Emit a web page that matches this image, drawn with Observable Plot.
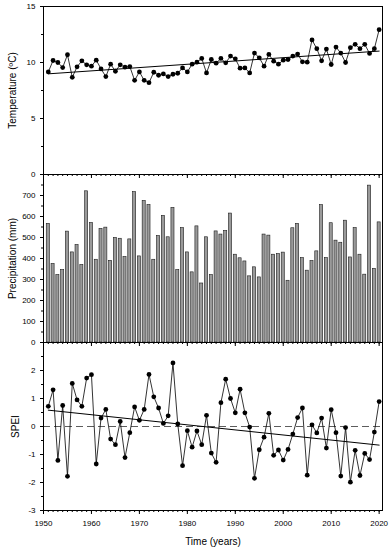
<!DOCTYPE html>
<html>
<head>
<meta charset="utf-8">
<script src="https://cdn.jsdelivr.net/npm/d3@7"></script>
<script src="https://cdn.jsdelivr.net/npm/@observablehq/plot@0.6"></script>
<style>
  body { margin: 0; background: #fff; }
  #chart { position: relative; width: 391px; height: 550px; font-family: "Liberation Sans", Arial, sans-serif; }
  #chart svg { position: absolute; left: 0; overflow: visible; background: transparent; }
</style>
</head>
<body>
<div id="chart"></div>
<script>
// ---- Data ----
const years = [
  1951,1952,1953,1954,1955,1956,1957,1958,1959,1960,
  1961,1962,1963,1964,1965,1966,1967,1968,1969,1970,
  1971,1972,1973,1974,1975,1976,1977,1978,1979,1980,
  1981,1982,1983,1984,1985,1986,1987,1988,1989,1990,
  1991,1992,1993,1994,1995,1996,1997,1998,1999,2000,
  2001,2002,2003,2004,2005,2006,2007,2008,2009,2010,
  2011,2012,2013,2014,2015,2016,2017,2018,2019,2020
];
const temperature = [
  9.16,10.18,10.00,9.55,10.69,8.68,9.61,10.15,9.79,9.67,
  10.21,9.43,8.74,9.85,9.22,9.79,9.58,9.64,8.41,9.16,
  8.41,8.20,9.13,8.86,8.98,8.74,8.95,9.04,9.52,9.16,
  9.85,10.03,10.36,9.07,10.27,9.94,10.36,9.97,10.57,10.33,
  9.49,9.52,9.07,10.84,10.42,9.67,10.72,10.12,9.85,10.21,
  10.27,10.57,10.75,10.06,10.03,12.02,11.23,10.15,11.20,9.82,
  11.38,10.84,10.00,11.32,11.62,11.23,11.62,10.81,11.23,12.93
];
const precipitation = [
  565,374,321,345,528,429,464,369,720,569,
  394,541,547,389,498,494,407,491,716,410,
  674,655,394,507,603,501,641,345,545,429,
  334,553,281,501,321,529,514,531,614,418,
  401,386,315,358,310,514,509,418,421,428,
  294,544,565,402,342,388,434,654,402,568,
  485,475,580,405,545,418,323,747,351,572
];
const spei = [
  0.72,1.31,-1.21,0.75,-1.78,1.54,0.95,0.72,1.73,1.85,
  -1.34,0.30,0.61,-0.45,-0.65,0.18,-1.11,-0.22,0.70,0.22,
  0.61,1.86,1.06,0.66,0.11,0.38,2.27,0.09,-1.40,-0.15,
  -0.74,-0.16,-0.65,0.40,-0.95,-1.28,0.85,1.69,1.00,0.49,
  1.33,0.49,-0.02,-1.85,-0.83,-0.38,0.47,-1.03,-0.84,-1.20,
  -0.82,-0.27,0.32,0.66,-1.74,0.06,-0.23,0.30,-0.77,0.60,
  -0.22,-1.77,-0.04,-1.99,-0.85,-1.75,-0.96,-1.18,-0.20,0.89
];

// Tick labels / tick positions
const xMajorTicks = [1950,1960,1970,1980,1990,2000,2010,2020];
const xMinorTicks = [1950].concat(years);
const tempTicks = [0,5,10,15];
const tempMinorTicks = [2.5,7.5,12.5];
const precipTicks = [0,100,200,300,400,500,600,700];
const precipMinorTicks = [50,150,250,350,450,550,650,750,800];
const speiTicks = [-3,-2,-1,0,1,2];
const speiMinorTicks = [-2.5,-1.5,-0.5,0.5,1.5,2.5,3];

const titles = { temp: "Temperature (ºC)", precip: "Precipitation (mm)", spei: "SPEI", time: "Time (years)" };

// Tables built from the arrays
const tData = years.map((year, i) => ({year, v: temperature[i]}));
const pData = years.map((year, i) => ({year, v: precipitation[i]}));
const sData = years.map((year, i) => ({year, v: spei[i]}));

const FONT = '"Liberation Sans", Arial, sans-serif';
const X_DOMAIN = [1950, 2020.7];

function xAxes(withLabels) {
  return [
    Plot.axisX({ticks: xMinorTicks, tickSize: 2, tickFormat: () => "", label: null, stroke: "#000"}),
    Plot.axisX({ticks: xMajorTicks, tickSize: 4, tickPadding: 6, label: null, stroke: "#000",
      tickFormat: withLabels ? (d => String(d)) : (() => ""), fontSize: 8})
  ];
}
function yAxes(major, minor) {
  return [
    Plot.axisY({ticks: minor, tickSize: 2, tickFormat: () => "", label: null, stroke: "#000"}),
    Plot.axisY({ticks: major, tickSize: 3, tickPadding: 5, label: null, stroke: "#000",
      tickFormat: d => String(d).replace("-", "-"), fontSize: 8})
  ];
}
function yTitle(text, dx) {
  return Plot.text([text], {text: d => d, frameAnchor: "left", dx, rotate: -90,
    textAnchor: "middle", lineAnchor: "middle", fontSize: 10, fill: "#000"});
}
function place(svg, top) {
  svg.style.top = top + "px";
  document.getElementById("chart").appendChild(svg);
}

const common = {
  width: 391, marginLeft: 43, marginRight: 9,
  style: {background: "transparent", overflow: "visible", fontFamily: FONT, fontSize: "8px", color: "#000"}
};

// Panel 1: Temperature
place(Plot.plot({
  ...common, height: 180, marginTop: 6, marginBottom: 6,
  x: {domain: X_DOMAIN, label: null},
  y: {domain: [0, 15], label: null},
  marks: [
    ...xAxes(false),
    ...yAxes(tempTicks, tempMinorTicks),
    Plot.linearRegressionY(tData, {x: "year", y: "v", stroke: "#000", strokeWidth: 1, ci: 0}),
    Plot.line(tData, {x: "year", y: "v", stroke: "#000", strokeWidth: 0.8}),
    Plot.dot(tData, {x: "year", y: "v", r: 2.4, fill: "#000", stroke: null}),
    Plot.frame({stroke: "#000", strokeWidth: 1}),
    yTitle(titles.temp, -31)
  ]
}), 0);

// Panel 2: Precipitation
place(Plot.plot({
  ...common, height: 180, marginTop: 6, marginBottom: 6,
  x: {domain: X_DOMAIN, label: null},
  y: {domain: [0, 800], label: null},
  marks: [
    ...xAxes(false),
    ...yAxes(precipTicks, precipMinorTicks),
    Plot.rectY(pData, {x1: d => d.year - 0.32, x2: d => d.year + 0.32, y: "v",
      fill: "#9a9a9a", stroke: "#1a1a1a", strokeWidth: 0.6}),
    Plot.frame({stroke: "#000", strokeWidth: 1}),
    yTitle(titles.precip, -31)
  ]
}), 168);

// Panel 3: SPEI
place(Plot.plot({
  ...common, height: 214, marginTop: 6, marginBottom: 40,
  x: {domain: X_DOMAIN, label: null},
  y: {domain: [-3, 3], label: null},
  marks: [
    ...xAxes(true),
    ...yAxes(speiTicks, speiMinorTicks),
    Plot.ruleY([0], {stroke: "#333", strokeWidth: 0.8, strokeDasharray: "7,4"}),
    Plot.linearRegressionY(sData, {x: "year", y: "v", stroke: "#000", strokeWidth: 1, ci: 0}),
    Plot.line(sData, {x: "year", y: "v", stroke: "#000", strokeWidth: 0.8}),
    Plot.dot(sData, {x: "year", y: "v", r: 2.4, fill: "#000", stroke: null}),
    Plot.frame({stroke: "#000", strokeWidth: 1}),
    yTitle(titles.spei, -28),
    Plot.text([titles.time], {text: d => d, frameAnchor: "bottom", dy: 31, lineAnchor: "middle",
      textAnchor: "middle", fontSize: 10, fill: "#000"})
  ]
}), 336);
</script>
</body>
</html>
